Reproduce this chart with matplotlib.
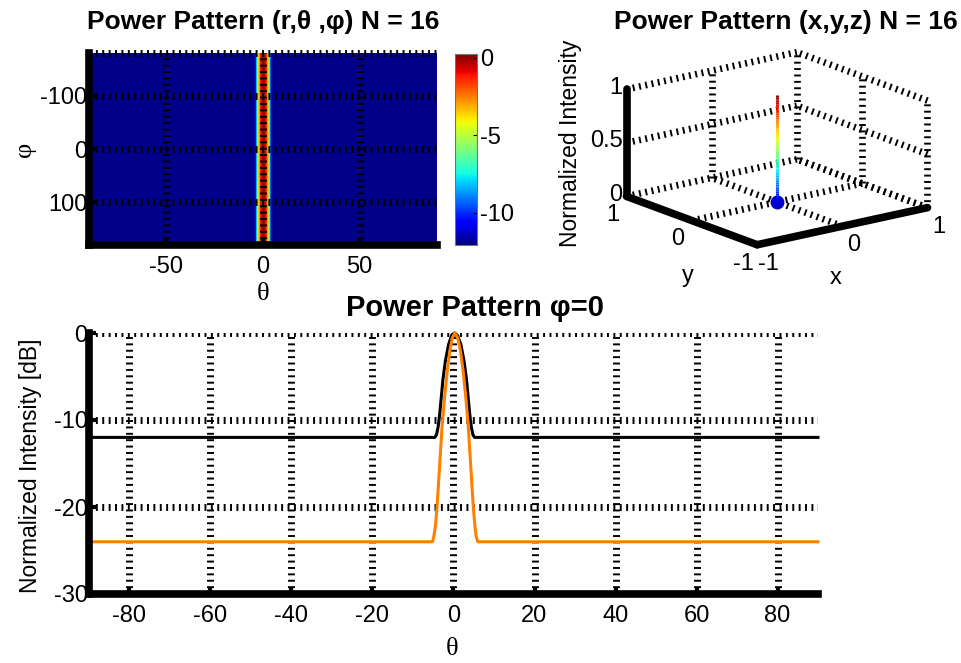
import numpy as np
import matplotlib
matplotlib.use('Agg')
import matplotlib.pyplot as plt
from mpl_toolkits.mplot3d.art3d import Line3DCollection

# pattern cut at phi = 0 (theta in deg, level in dB)
theta_black = [-90, -4.6, -4.2, -3.8, -3.4, -3.0, -2.6, -2.0, -1.2, -0.4, 0.3,
               1.0, 1.8, 2.6, 3.2, 3.6, 4.0, 4.4, 4.8, 5.2, 90]
db_black = [-12, -12, -11.7, -10.8, -9.3, -7.3, -5.3, -3.2, -1.3, -0.2, 0,
            -0.3, -1.3, -3.2, -5.3, -7.3, -9.3, -10.8, -11.7, -12, -12]

theta_orange = [-90, -5.2, -4.86, -4.44, -4.03, -3.62, -3.21, -2.80, -2.22, -1.56,
                -0.91, -0.33, 0.33, 1.07, 1.73, 2.39, 3.05, 3.62, 4.03, 4.44,
                4.86, 5.27, 5.6, 6.0, 90]
db_orange = [-24, -24, -23.4, -22.1, -19.8, -16.7, -13.6, -10.6, -7.5, -4.4,
             -2.1, -0.6, 0, -0.6, -2.1, -4.4, -7.5, -10.6, -13.6, -16.7,
             -19.8, -22.1, -23.4, -24, -24]

phi_rows = [-180, 180]
peak_intensity = 1.0

x_ticks = [-1, 0, 1]
y_ticks = [-1, 0, 1]
z_ticks = [0, 0.5, 1]

plt.rcParams['font.family'] = ['Liberation Sans', 'DejaVu Sans']
plt.rcParams['lines.scale_dashes'] = False
plt.rcParams['axes.unicode_minus'] = False

W, H = 961, 663
fig = plt.figure(figsize=(W / 100, H / 100), dpi=100)


def box(x0, y0, x1, y1):
    # pixel box, origin top left -> figure rect
    return [x0 / W, 1 - y1 / H, (x1 - x0) / W, (y1 - y0) / H]


GRID = dict(color='k', linestyle=(0, (1.4, 3.2)), linewidth=5)
TICK = 17
TITLE = dict(fontsize=19, fontweight='bold', ha='center', va='center')
SERIF = ['Liberation Serif', 'DejaVu Serif']


def style(ax):
    for s in ['top', 'right']:
        ax.spines[s].set_visible(False)
    for s in ['left', 'bottom']:
        ax.spines[s].set_linewidth(5.5)
    ax.tick_params(direction='in', length=5, width=3, labelsize=TICK)
    ax.tick_params(axis='x', pad=8)
    ax.tick_params(axis='y', pad=1)


# ---- top left: theta / phi map
ax1 = fig.add_axes(box(89, 53, 437, 245))
mesh = ax1.pcolormesh(theta_black, phi_rows, np.tile(db_black, (2, 1)),
                      cmap='jet', vmin=-12.1, vmax=0.25, shading='gouraud')
ax1.set_xlim(-90, 90)
ax1.set_ylim(180, -180)
ax1.set_xticks([-50, 0, 50])
ax1.set_yticks([-100, 0, 100])
ax1.grid(True, **GRID)
ax1.set_axisbelow(False)
ax1.axhline(-180, clip_on=False, zorder=3, **GRID)
style(ax1)
fig.text(263 / W, 1 - 22 / H, 'Power Pattern (r,θ ,φ) N = 16', **TITLE)
fig.text(263 / W, 1 - 294 / H, 'θ', family=SERIF, fontsize=19, ha='center', va='center')
fig.text(25 / W, 1 - 149 / H, 'φ', family=SERIF, fontsize=19, rotation=90,
         ha='center', va='center')

cax = fig.add_axes(box(455, 54, 477, 245))
cb = fig.colorbar(mesh, cax=cax, ticks=[0, -5, -10])
cb.outline.set_linewidth(0.8)
cb.outline.set_edgecolor('0.45')
cax.tick_params(direction='in', length=3, width=0.8, labelsize=TICK, pad=2)

# ---- bottom: cut at phi = 0
ax2 = fig.add_axes(box(89, 333, 818, 594))
ax2.plot(theta_black, db_black, color='k', lw=2.2, clip_on=False)
ax2.plot(theta_orange, db_orange, color='#ff8000', lw=2.2, clip_on=False)
ax2.set_xlim(-90, 90)
ax2.set_ylim(-30, 0)
ax2.set_xticks(range(-80, 81, 20))
ax2.set_yticks([-30, -20, -10, 0])
ax2.grid(True, **GRID)
style(ax2)
fig.text(475 / W, 1 - 308 / H, 'Power Pattern φ=0', **dict(TITLE, fontsize=21))
fig.text(452 / W, 1 - 649 / H, 'θ', family=SERIF, fontsize=19, ha='center', va='center')
fig.text(31 / W, 1 - 466 / H, 'Normalized Intensity [dB]', fontsize=16.5, rotation=90,
         ha='center', va='center')

# ---- top right: 3d view
ax3 = fig.add_axes(box(560, 0, 961, 300), projection='3d')
ax3.set_proj_type('ortho')
ax3.view_init(elev=16.5, azim=-127.5)
ax3.set_xlim(-1, 1)
ax3.set_ylim(-1, 1)
ax3.set_zlim(0, 1)
ax3.set_box_aspect((1, 1, 0.52))
ax3.set_axis_off()

g3 = dict(GRID, linewidth=4.8, clip_on=False)
for z in z_ticks:
    ax3.plot([-1, 1], [1, 1], [z, z], **g3)
    ax3.plot([1, 1], [-1, 1], [z, z], **g3)
for x in x_ticks[1:]:
    ax3.plot([x, x], [1, 1], [0, 1], **g3)
    ax3.plot([x, x], [-1, 1], [0, 0], **g3)
for y in y_ticks[:-1]:
    ax3.plot([1, 1], [y, y], [0, 1], **g3)
ax3.plot([-1, 1], [0, 0], [0, 0], **g3)

axis3 = dict(color='k', lw=5.5, solid_capstyle='round', clip_on=False)
ax3.plot([-1, -1], [1, 1], [0, 1], **axis3)
ax3.plot([-1, -1], [1, -1], [0, 0], **axis3)
ax3.plot([-1, 1], [-1, -1], [0, 0], **axis3)

zs = np.linspace(0, peak_intensity, 60)
segs = [[(0, 0, zs[i]), (0, 0, zs[i + 1])] for i in range(len(zs) - 1)]
stem = Line3DCollection(segs, colors=plt.cm.jet(zs[:-1] / peak_intensity * 0.9 + 0.1),
                        linewidths=2.2)
stem.set_clip_on(False)
ax3.add_collection3d(stem)
ax3.plot([0], [0], [0], 'o', color=(0, 0, 0.8), ms=9, clip_on=False)

fig.text(571 / W, 1 - 143 / H, 'Normalized Intensity', fontsize=16.5, rotation=90,
         ha='center', va='center')
fig.text(786 / W, 1 - 22 / H, 'Power Pattern (x,y,z) N = 16', **TITLE)


def to_px(x, y, z):
    v = ax3.M @ np.array([x, y, z, 1.0])
    return ax3.transData.transform((v[0] / v[3], v[1] / v[3]))


# fit the 3d box onto the reference corners
fig.canvas.draw()
span = to_px(1, -1, 0)[0] - to_px(-1, 1, 0)[0]
ax3.set_box_aspect((1, 1, 0.52), zoom=(928 - 627) / span)
fig.canvas.draw()
c = to_px(0, 0, 0)
pos = ax3.get_position(original=True)
ax3.set_position([pos.x0 + (777 - c[0]) / W, pos.y0 + (H - 202 - c[1]) / H,
                  pos.width, pos.height])
fig.canvas.draw()


def label3(x, y, z, s, **kw):
    px, py = to_px(x, y, z)
    fig.text(px / W, py / H, s, fontsize=TICK, va='center', **kw)


for z in z_ticks:
    label3(-1, 1.06, z, '%g' % z, ha='right')
for y in y_ticks:
    label3(-1.164, y, -0.148, '%g' % y, ha='center')
for x in x_ticks:
    label3(x, -1.168, -0.139, '%g' % x, ha='center')
label3(-1.49, -0.58, -0.3, 'y', ha='center')
label3(-0.44, -1.47, -0.3, 'x', ha='center')

fig.savefig('out.png', dpi=100)
